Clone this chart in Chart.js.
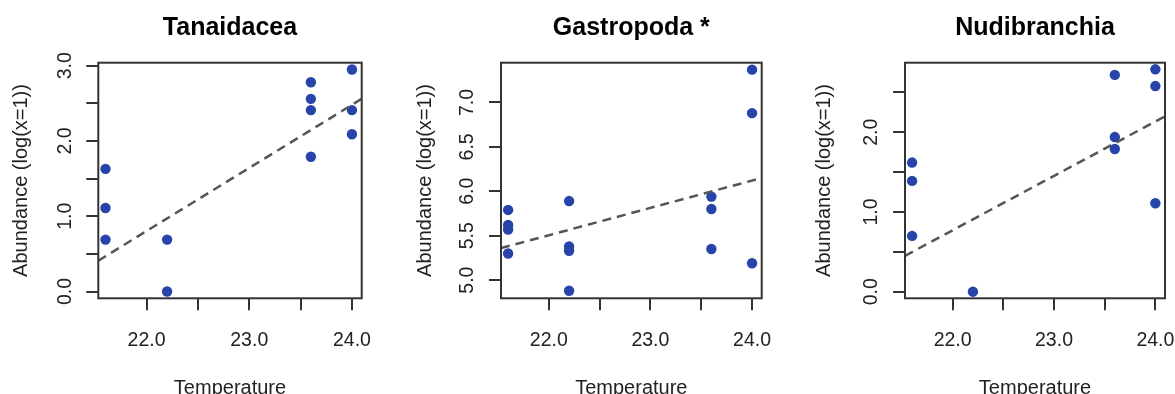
<!DOCTYPE html>
<html>
<head>
<meta charset="utf-8">
<script src="https://cdn.jsdelivr.net/npm/chart.js@4.4.1/dist/chart.umd.min.js"></script>
<style>
  html, body { margin: 0; padding: 0; background: #ffffff; width: 1175px; height: 394px; overflow: hidden; }
  canvas { position: absolute; top: 0; }
</style>
</head>
<body>
<canvas id="c0" width="392" height="394" style="left:0px"></canvas>
<canvas id="c1" width="392" height="394" style="left:392px"></canvas>
<canvas id="c2" width="391" height="394" style="left:784px"></canvas>
<script>
// ---------- data ----------
const panelTitles = ['Tanaidacea', 'Gastropoda *', 'Nudibranchia'];
const xAxisTitle = 'Temperature';
const yAxisTitle = 'Abundance (log(x=1))';

const xTicks = [22.0, 22.5, 23.0, 23.5, 24.0];
const xTickLabels = ['22.0', '', '23.0', '', '24.0'];
const xRange = [21.53, 24.095];

// Tanaidacea
const tanaidaceaX = [21.6, 21.6, 21.6, 22.2, 22.2, 23.6, 23.6, 23.6, 23.6, 24.0, 24.0, 24.0];
const tanaidaceaY = [1.63, 1.11, 0.69, 0.69, 0.00, 2.78, 2.56, 2.41, 1.79, 2.95, 2.41, 2.09];
const tanaidaceaFitX = [21.53, 24.095];
const tanaidaceaFitY = [0.41, 2.56];
const tanaidaceaYTicks = [0, 0.5, 1.0, 1.5, 2.0, 2.5, 3.0];
const tanaidaceaYLabels = ['0.0', '', '1.0', '', '2.0', '', '3.0'];
const tanaidaceaYRange = [-0.09, 3.04];

// Gastropoda
const gastropodaX = [21.6, 21.6, 21.6, 21.6, 22.2, 22.2, 22.2, 22.2, 23.6, 23.6, 23.6, 24.0, 24.0, 24.0];
const gastropodaY = [5.79, 5.62, 5.57, 5.30, 5.89, 5.38, 5.33, 4.88, 5.94, 5.80, 5.35, 7.37, 6.88, 5.19];
const gastropodaFitX = [21.53, 24.095];
const gastropodaFitY = [5.36, 6.15];
const gastropodaYTicks = [5.0, 5.5, 6.0, 6.5, 7.0];
const gastropodaYLabels = ['5.0', '5.5', '6.0', '6.5', '7.0'];
const gastropodaYRange = [4.795, 7.448];

// Nudibranchia
const nudibranchiaX = [21.6, 21.6, 21.6, 22.2, 23.6, 23.6, 23.6, 24.0, 24.0, 24.0];
const nudibranchiaY = [1.62, 1.39, 0.70, 0.00, 2.72, 1.94, 1.79, 2.79, 2.58, 1.11];
const nudibranchiaFitX = [21.53, 24.095];
const nudibranchiaFitY = [0.45, 2.20];
const nudibranchiaYTicks = [0, 0.5, 1.0, 1.5, 2.0, 2.5];
const nudibranchiaYLabels = ['0.0', '', '1.0', '', '2.0', ''];
const nudibranchiaYRange = [-0.083, 2.873];

// ---------- styling / layout ----------
const FONT = "'Liberation Sans', Arial, Helvetica, sans-serif";
const POINT_COLOR = '#2744aa';
const AXIS_COLOR = '#333333';
const TEXT_COLOR = '#222222';

const layouts = [
  { canvas: 'c0', padL: 8.3,  padR: 30.3, yTitlePad: 0.7 },
  { canvas: 'c1', padL: 19,   padR: 22.3, yTitlePad: 2 },
  { canvas: 'c2', padL: 31,   padR: 10,   yTitlePad: -2.5 }
];

const panelData = [
  { x: tanaidaceaX, y: tanaidaceaY, fx: tanaidaceaFitX, fy: tanaidaceaFitY, yt: tanaidaceaYTicks, yl: tanaidaceaYLabels, yr: tanaidaceaYRange },
  { x: gastropodaX, y: gastropodaY, fx: gastropodaFitX, fy: gastropodaFitY, yt: gastropodaYTicks, yl: gastropodaYLabels, yr: gastropodaYRange },
  { x: nudibranchiaX, y: nudibranchiaY, fx: nudibranchiaFitX, fy: nudibranchiaFitY, yt: nudibranchiaYTicks, yl: nudibranchiaYLabels, yr: nudibranchiaYRange }
];

const boxPlugin = {
  id: 'plotBox',
  afterDraw(chart) {
    const a = chart.chartArea, ctx = chart.ctx;
    ctx.save();
    ctx.strokeStyle = AXIS_COLOR;
    ctx.lineWidth = 2;
    ctx.strokeRect(a.left, a.top, a.right - a.left, a.bottom - a.top);
    ctx.restore();
  }
};

panelData.forEach((d, i) => {
  const L = layouts[i];
  const points = d.x.map((v, k) => ({ x: v, y: d.y[k] }));
  const fit = d.fx.map((v, k) => ({ x: v, y: d.fy[k] }));
  new Chart(document.getElementById(L.canvas), {
    type: 'scatter',
    data: {
      datasets: [
        {
          type: 'line',
          data: fit,
          borderColor: '#555555',
          borderWidth: 2.5,
          borderDash: [9, 6],
          pointRadius: 0,
          fill: false,
          tension: 0
        },
        {
          data: points,
          pointRadius: 5.2,
          pointHoverRadius: 5.2,
          pointBackgroundColor: POINT_COLOR,
          pointBorderColor: POINT_COLOR,
          pointBorderWidth: 0,
          showLine: false
        }
      ]
    },
    options: {
      responsive: false,
      animation: false,
      devicePixelRatio: 1,
      events: [],
      layout: { padding: { left: L.padL, right: L.padR, top: 0, bottom: 0 } },
      plugins: {
        legend: { display: false },
        tooltip: { enabled: false },
        title: {
          display: true,
          text: panelTitles[i],
          fullSize: false,
          color: '#000000',
          font: { family: FONT, size: 25, weight: 'bold', lineHeight: 1.2 },
          padding: { top: 13, bottom: 19.7 }
        }
      },
      scales: {
        x: {
          type: 'linear',
          position: 'bottom',
          min: xRange[0],
          max: xRange[1],
          afterBuildTicks: s => { s.ticks = xTicks.map(v => ({ value: v })); },
          afterFit: s => { s.height = 95.7; s.paddingLeft = 0; s.paddingRight = 0; },
          border: { display: false },
          grid: { display: true, drawOnChartArea: false, drawTicks: true, tickLength: 12, color: AXIS_COLOR, lineWidth: 2 },
          ticks: {
            callback: (v, idx) => xTickLabels[idx],
            maxRotation: 0, minRotation: 0, autoSkip: false,
            padding: 18.5,
            color: TEXT_COLOR,
            font: { family: FONT, size: 19.5, lineHeight: 1.2 }
          },
          title: {
            display: true, text: xAxisTitle, color: TEXT_COLOR,
            font: { family: FONT, size: 20, lineHeight: 1.2 },
            padding: { top: 0, bottom: -6 }
          }
        },
        y: {
          type: 'linear',
          position: 'left',
          min: d.yr[0],
          max: d.yr[1],
          afterBuildTicks: s => { s.ticks = d.yt.map(v => ({ value: v })); },
          afterFit: s => { s.width = 90; s.paddingTop = 0; s.paddingBottom = 0; },
          border: { display: false },
          grid: { display: true, drawOnChartArea: false, drawTicks: true, tickLength: 12, color: AXIS_COLOR, lineWidth: 2 },
          ticks: {
            callback: (v, idx) => d.yl[idx],
            minRotation: 90, maxRotation: 90, autoSkip: false,
            crossAlign: 'center',
            padding: 7.4,
            color: TEXT_COLOR,
            font: { family: FONT, size: 19.5, lineHeight: 1.2 }
          },
          title: {
            display: true, text: yAxisTitle, color: TEXT_COLOR,
            font: { family: FONT, size: 20, lineHeight: 1.2 },
            padding: { top: L.yTitlePad, bottom: 0 }
          }
        }
      }
    },
    plugins: [boxPlugin]
  });
});
</script>
</body>
</html>
